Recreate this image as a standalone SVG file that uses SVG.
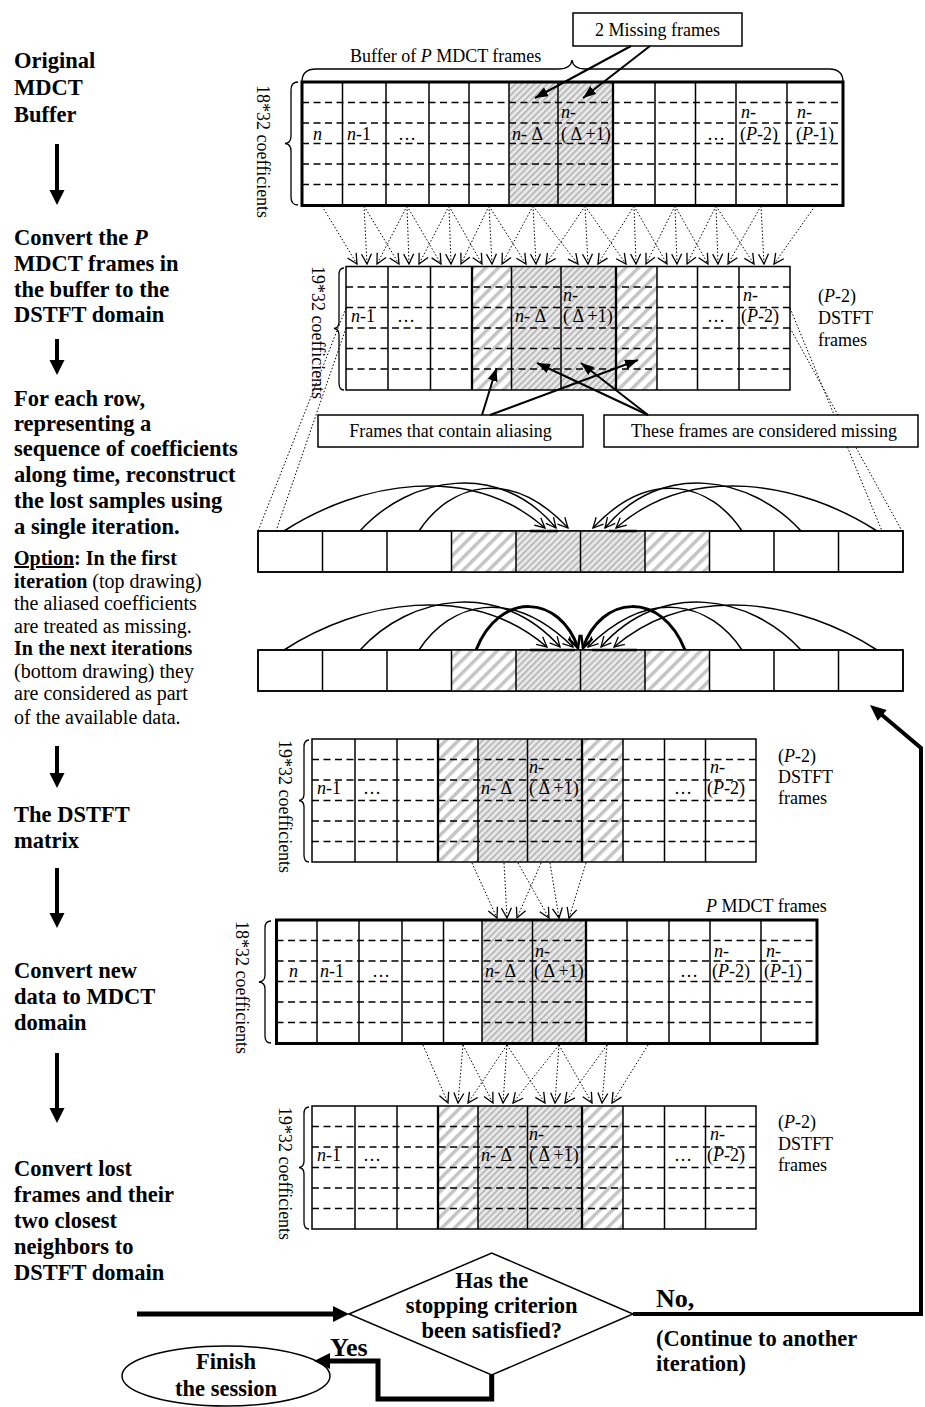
<svg xmlns="http://www.w3.org/2000/svg" width="925" height="1407" viewBox="0 0 925 1407">
<defs>
<style>
.cell{fill:#fff;stroke:#000;stroke-width:1.5}
.bd{fill:none;stroke:#000;stroke-width:1.5}
.bd3{fill:none;stroke:#000;stroke-width:3}
.vl{stroke:#000;stroke-width:1.5}
.vl2{stroke:#000;stroke-width:2.3}
.dash{stroke:#000;stroke-width:1.5;stroke-dasharray:7 4.5}
.dot{stroke:#000;stroke-width:1;stroke-dasharray:1.5 2;fill:none}
.brace{fill:none;stroke:#000;stroke-width:1.3}
.arc{fill:none;stroke:#000;stroke-width:1.5}
.arcb{fill:none;stroke:#000;stroke-width:3}
.thk{fill:none;stroke:#000}
.lbl{font-family:"Liberation Serif","Times New Roman",serif;font-size:18px}
.sm{font-family:"Liberation Serif","Times New Roman",serif;font-size:20px}
.bold{font-family:"Liberation Serif","Times New Roman",serif;font-weight:bold;font-size:22.5px}
.big{font-family:"Liberation Serif","Times New Roman",serif;font-weight:bold;font-size:26px}
.it{font-style:italic}
.b{font-weight:bold}
.miss{fill:url(#pm)}
.alias{fill:url(#pa)}
</style>
<pattern id="pm" width="4.5" height="4.5" patternUnits="userSpaceOnUse" patternTransform="rotate(45)"><rect width="4.5" height="4.5" fill="#e8e8e8"/><rect width="1.6" height="4.5" fill="#b4b4b4"/></pattern>
<pattern id="pa" width="9" height="9" patternUnits="userSpaceOnUse" patternTransform="rotate(45)"><rect width="9" height="9" fill="#fff"/><rect width="3.5" height="9" fill="#c4c4c4"/></pattern>
<marker id="av" markerWidth="12" markerHeight="12" refX="11" refY="6" orient="auto" markerUnits="userSpaceOnUse"><path d="M1,1 L11,6 L1,11" fill="none" stroke="#000" stroke-width="1.3" stroke-dasharray="none"/></marker>
<marker id="avb" markerWidth="14" markerHeight="14" refX="13" refY="7" orient="auto" markerUnits="userSpaceOnUse"><path d="M1,1 L13,7 L1,13" fill="none" stroke="#000" stroke-width="2.5"/></marker>
<marker id="af" markerWidth="14" markerHeight="10" refX="13" refY="5" orient="auto" markerUnits="userSpaceOnUse"><path d="M0,0 L13,5 L0,10 z" fill="#000"/></marker>
</defs>
<rect width="925" height="1407" fill="#fff"/>

<!-- Left column of steps -->
<g id="step-original">
<text class="bold" x="14" y="68">Original</text>
<text class="bold" x="14" y="95">MDCT</text>
<text class="bold" x="14" y="122">Buffer</text>
</g>
<g id="step-convert-dstft">
<text class="bold" x="14" y="245">Convert the <tspan class="it">P</tspan></text>
<text class="bold" x="14" y="271">MDCT frames in</text>
<text class="bold" x="14" y="297">the buffer to the</text>
<text class="bold" x="14" y="322">DSTFT domain</text>
</g>
<g id="step-reconstruct">
<text class="bold" x="14" y="406">For each row,</text>
<text class="bold" x="14" y="431">representing a</text>
<text class="bold" x="14" y="456">sequence of coefficients</text>
<text class="bold" x="14" y="482">along time, reconstruct</text>
<text class="bold" x="14" y="508">the lost samples using</text>
<text class="bold" x="14" y="534">a single iteration.</text>
<text class="sm" x="14" y="565"><tspan class="b" text-decoration="underline">Option</tspan><tspan class="b">: In the first</tspan></text>
<text class="sm" x="14" y="588"><tspan class="b">iteration</tspan> (top drawing)</text>
<text class="sm" x="14" y="610">the aliased coefficients</text>
<text class="sm" x="14" y="633">are treated as missing.</text>
<text class="sm b" x="14" y="655">In the next iterations</text>
<text class="sm" x="14" y="678">(bottom drawing) they</text>
<text class="sm" x="14" y="700">are considered as part</text>
<text class="sm" x="14" y="724">of the available data.</text>
</g>
<g id="step-dstft-matrix">
<text class="bold" x="14" y="822">The DSTFT</text>
<text class="bold" x="14" y="848">matrix</text>
</g>
<g id="step-convert-mdct">
<text class="bold" x="14" y="978">Convert new</text>
<text class="bold" x="14" y="1004">data to MDCT</text>
<text class="bold" x="14" y="1030">domain</text>
</g>
<g id="step-convert-lost">
<text class="bold" x="14" y="1176">Convert lost</text>
<text class="bold" x="14" y="1202">frames and their</text>
<text class="bold" x="14" y="1228">two closest</text>
<text class="bold" x="14" y="1254">neighbors to</text>
<text class="bold" x="14" y="1280">DSTFT domain</text>
</g>

<!-- Matrix 1: original MDCT buffer -->
<g id="mdct-buffer">
<rect x="302" y="82" width="541" height="123.5" fill="#fff"/>
<rect class="miss" x="509" y="82" width="104" height="123.5"/>
<g class="vl">
<line x1="342.5" y1="82" x2="342.5" y2="205.5"/><line x1="386" y1="82" x2="386" y2="205.5"/><line x1="429" y1="82" x2="429" y2="205.5"/><line x1="469" y1="82" x2="469" y2="205.5"/><line x1="509" y1="82" x2="509" y2="205.5"/><line x1="558" y1="82" x2="558" y2="205.5"/><line x1="655" y1="82" x2="655" y2="205.5"/><line x1="695.5" y1="82" x2="695.5" y2="205.5"/><line x1="736" y1="82" x2="736" y2="205.5"/><line x1="787" y1="82" x2="787" y2="205.5"/>
</g>
<line class="vl2" x1="613" y1="82" x2="613" y2="205.5"/>
<g class="dash">
<line x1="302" y1="102.5" x2="843" y2="102.5"/><line x1="302" y1="123" x2="843" y2="123"/><line x1="302" y1="143.5" x2="843" y2="143.5"/><line x1="302" y1="164" x2="843" y2="164"/><line x1="302" y1="184.5" x2="843" y2="184.5"/>
</g>
<rect class="bd3" x="302" y="82" width="541" height="123.5"/>
<text class="lbl" x="313" y="140"><tspan class="it">n</tspan></text>
<text class="lbl" x="347" y="140"><tspan class="it">n</tspan>-1</text>
<text class="lbl" x="398" y="140">…</text>
<text class="lbl" x="512" y="140"><tspan class="it">n</tspan>- Δ</text>
<text class="lbl" x="561" y="118"><tspan class="it">n</tspan>-</text>
<text class="lbl" x="561" y="140">( Δ +1)</text>
<text class="lbl" x="707" y="140">…</text>
<text class="lbl" x="741" y="118"><tspan class="it">n</tspan>-</text>
<text class="lbl" x="740" y="140">(<tspan class="it">P</tspan>-2)</text>
<text class="lbl" x="797" y="118"><tspan class="it">n</tspan>-</text>
<text class="lbl" x="796" y="140">(<tspan class="it">P</tspan>-1)</text>
<path class="brace" d="M298,82 Q291,82 291,90 L291,136 Q291,143 285,143.5 Q291,144 291,151 L291,197 Q291,205 298,205"/>
<text class="lbl" transform="translate(257,85) rotate(90)">18*32 coefficients</text>
<path class="brace" d="M302,82 Q302,69 316,69 L558,69 Q571,69 572,60 Q573,69 586,69 L829,69 Q843,69 843,82"/>
<text class="lbl" x="350" y="62">Buffer of <tspan class="it">P</tspan> MDCT frames</text>
</g>

<g id="missing-frames-label">
<rect class="cell" x="573" y="13" width="169" height="33"/>
<text class="lbl" x="657.5" y="36" text-anchor="middle">2 Missing frames</text>
</g>

<!-- Matrix 2: DSTFT frames -->
<g id="dstft-1">
<rect x="346" y="266.5" width="444" height="123.5" fill="#fff"/>
<rect class="alias" x="472" y="266.5" width="39.5" height="123.5"/>
<rect class="miss" x="511.5" y="266.5" width="104.5" height="123.5"/>
<rect class="alias" x="616" y="266.5" width="41" height="123.5"/>
<g class="vl">
<line x1="388" y1="266.5" x2="388" y2="390"/><line x1="430.5" y1="266.5" x2="430.5" y2="390"/><line x1="511.5" y1="266.5" x2="511.5" y2="390"/><line x1="561" y1="266.5" x2="561" y2="390"/><line x1="697.5" y1="266.5" x2="697.5" y2="390"/><line x1="739" y1="266.5" x2="739" y2="390"/>
</g>
<line class="vl2" x1="472" y1="266.5" x2="472" y2="390"/><line class="vl2" x1="616" y1="266.5" x2="616" y2="390"/><line class="vl" x1="657" y1="266.5" x2="657" y2="390"/>
<g class="dash">
<line x1="346" y1="287" x2="790" y2="287"/><line x1="346" y1="307.5" x2="790" y2="307.5"/><line x1="346" y1="328" x2="790" y2="328"/><line x1="346" y1="348.5" x2="790" y2="348.5"/><line x1="346" y1="369" x2="790" y2="369"/>
</g>
<rect class="bd" x="346" y="266.5" width="444" height="123.5"/>
<text class="lbl" x="351" y="322"><tspan class="it">n</tspan>-1</text>
<text class="lbl" x="397" y="322">…</text>
<text class="lbl" x="515" y="322"><tspan class="it">n</tspan>- Δ</text>
<text class="lbl" x="563" y="301"><tspan class="it">n</tspan>-</text>
<text class="lbl" x="563" y="322">( Δ +1)</text>
<text class="lbl" x="707" y="322">…</text>
<text class="lbl" x="743" y="301"><tspan class="it">n</tspan>-</text>
<text class="lbl" x="741" y="322">(<tspan class="it">P</tspan>-2)</text>
<text class="lbl" x="818" y="302">(<tspan class="it">P</tspan>-2)</text>
<text class="lbl" x="818" y="324">DSTFT</text>
<text class="lbl" x="818" y="346">frames</text>
<path class="brace" d="M344,268 Q339,268 339,275 L339,322 Q339,328 334,328.5 Q339,329 339,335 L339,383 Q339,390 344,390"/>
<text class="lbl" transform="translate(312,266) rotate(90)">19*32 coefficients</text>
</g>

<!-- Projection lines (behind boxes) -->
<g id="projection-lines" class="dot">
<line x1="346" y1="308" x2="258" y2="531"/>
<line x1="346" y1="328" x2="276" y2="531"/>
<line x1="790" y1="308" x2="882" y2="531"/>
<line x1="790" y1="328" x2="902" y2="531"/>
</g>

<g id="aliasing-label">
<rect class="cell" x="318" y="415" width="265" height="32"/>
<text class="lbl" x="450.5" y="437" text-anchor="middle">Frames that contain aliasing</text>
</g>
<g id="considered-missing-label">
<rect class="cell" x="604" y="415" width="314" height="32"/>
<text class="lbl" x="764" y="437" text-anchor="middle">These frames are considered missing</text>
</g>

<!-- Row A: first iteration -->
<g id="row-first-iteration">
<rect class="cell" x="258" y="531" width="645" height="41"/>
<rect class="alias" x="451.5" y="531" width="64.5" height="41"/>
<rect class="miss" x="516" y="531" width="129" height="41"/>
<rect class="alias" x="645" y="531" width="64.5" height="41"/>
<g class="vl">
<line x1="322.5" y1="531" x2="322.5" y2="572"/><line x1="387" y1="531" x2="387" y2="572"/><line x1="451.5" y1="531" x2="451.5" y2="572"/><line x1="516" y1="531" x2="516" y2="572"/><line x1="580.5" y1="531" x2="580.5" y2="572"/><line x1="645" y1="531" x2="645" y2="572"/><line x1="709.5" y1="531" x2="709.5" y2="572"/><line x1="774" y1="531" x2="774" y2="572"/><line x1="838.5" y1="531" x2="838.5" y2="572"/>
</g>
<rect class="bd" x="258" y="531" width="645" height="41"/>
</g>

<!-- Row B: next iterations -->
<g id="row-next-iterations">
<rect class="cell" x="258" y="650" width="645" height="41"/>
<rect class="alias" x="451.5" y="650" width="64.5" height="41"/>
<rect class="miss" x="516" y="650" width="129" height="41"/>
<rect class="alias" x="645" y="650" width="64.5" height="41"/>
<g class="vl">
<line x1="322.5" y1="650" x2="322.5" y2="691"/><line x1="387" y1="650" x2="387" y2="691"/><line x1="451.5" y1="650" x2="451.5" y2="691"/><line x1="516" y1="650" x2="516" y2="691"/><line x1="580.5" y1="650" x2="580.5" y2="691"/><line x1="645" y1="650" x2="645" y2="691"/><line x1="709.5" y1="650" x2="709.5" y2="691"/><line x1="774" y1="650" x2="774" y2="691"/><line x1="838.5" y1="650" x2="838.5" y2="691"/>
</g>
<rect class="bd" x="258" y="650" width="645" height="41"/>
</g>

<!-- Matrix 3: DSTFT matrix -->
<g id="dstft-2">
<rect x="312" y="739" width="444" height="123" fill="#fff"/>
<rect class="alias" x="438" y="739" width="40" height="123"/>
<rect class="miss" x="478" y="739" width="104" height="123"/>
<rect class="alias" x="582" y="739" width="41" height="123"/>
<g class="vl">
<line x1="355" y1="739" x2="355" y2="862"/><line x1="397" y1="739" x2="397" y2="862"/><line x1="478" y1="739" x2="478" y2="862"/><line x1="527.5" y1="739" x2="527.5" y2="862"/><line x1="623" y1="739" x2="623" y2="862"/><line x1="664.5" y1="739" x2="664.5" y2="862"/><line x1="705.5" y1="739" x2="705.5" y2="862"/>
</g>
<line class="vl2" x1="438" y1="739" x2="438" y2="862"/><line class="vl2" x1="582" y1="739" x2="582" y2="862"/>
<g class="dash">
<line x1="312" y1="759.5" x2="756" y2="759.5"/><line x1="312" y1="780" x2="756" y2="780"/><line x1="312" y1="800.5" x2="756" y2="800.5"/><line x1="312" y1="821" x2="756" y2="821"/><line x1="312" y1="841.5" x2="756" y2="841.5"/>
</g>
<rect class="bd" x="312" y="739" width="444" height="123"/>
<text class="lbl" x="317" y="794"><tspan class="it">n</tspan>-1</text>
<text class="lbl" x="363" y="794">…</text>
<text class="lbl" x="481" y="794"><tspan class="it">n</tspan>- Δ</text>
<text class="lbl" x="529" y="773"><tspan class="it">n</tspan>-</text>
<text class="lbl" x="529" y="794">( Δ +1)</text>
<text class="lbl" x="674" y="794">…</text>
<text class="lbl" x="710" y="773"><tspan class="it">n</tspan>-</text>
<text class="lbl" x="707" y="794">(<tspan class="it">P</tspan>-2)</text>
<text class="lbl" x="778" y="762">(<tspan class="it">P</tspan>-2)</text>
<text class="lbl" x="778" y="783">DSTFT</text>
<text class="lbl" x="778" y="804">frames</text>
<path class="brace" d="M309,740 Q304,740 304,747 L304,794 Q304,800 299,800.5 Q304,801 304,807 L304,855 Q304,862 309,862"/>
<text class="lbl" transform="translate(279,740) rotate(90)">19*32 coefficients</text>
</g>

<!-- Matrix 4: new MDCT frames -->
<g id="mdct-new">
<rect x="276.5" y="920" width="540.5" height="123.5" fill="#fff"/>
<rect class="miss" x="482" y="920" width="104" height="123.5"/>
<g class="vl">
<line x1="317" y1="920" x2="317" y2="1043.5"/><line x1="359" y1="920" x2="359" y2="1043.5"/><line x1="402" y1="920" x2="402" y2="1043.5"/><line x1="443.5" y1="920" x2="443.5" y2="1043.5"/><line x1="482" y1="920" x2="482" y2="1043.5"/><line x1="532.5" y1="920" x2="532.5" y2="1043.5"/><line x1="627" y1="920" x2="627" y2="1043.5"/><line x1="669" y1="920" x2="669" y2="1043.5"/><line x1="710" y1="920" x2="710" y2="1043.5"/><line x1="761" y1="920" x2="761" y2="1043.5"/>
</g>
<line class="vl2" x1="586" y1="920" x2="586" y2="1043.5"/>
<g class="dash">
<line x1="276.5" y1="940.5" x2="817" y2="940.5"/><line x1="276.5" y1="961" x2="817" y2="961"/><line x1="276.5" y1="981.5" x2="817" y2="981.5"/><line x1="276.5" y1="1002" x2="817" y2="1002"/><line x1="276.5" y1="1022.5" x2="817" y2="1022.5"/>
</g>
<rect class="bd3" x="276.5" y="920" width="540.5" height="123.5"/>
<text class="lbl" x="289" y="977"><tspan class="it">n</tspan></text>
<text class="lbl" x="320" y="977"><tspan class="it">n</tspan>-1</text>
<text class="lbl" x="372" y="977">…</text>
<text class="lbl" x="485" y="977"><tspan class="it">n</tspan>- Δ</text>
<text class="lbl" x="535" y="957"><tspan class="it">n</tspan>-</text>
<text class="lbl" x="534" y="977">( Δ +1)</text>
<text class="lbl" x="680" y="977">…</text>
<text class="lbl" x="714" y="957"><tspan class="it">n</tspan>-</text>
<text class="lbl" x="712" y="977">(<tspan class="it">P</tspan>-2)</text>
<text class="lbl" x="766" y="957"><tspan class="it">n</tspan>-</text>
<text class="lbl" x="764" y="977">(<tspan class="it">P</tspan>-1)</text>
<text class="lbl" x="706" y="912"><tspan class="it">P</tspan> MDCT frames</text>
<path class="brace" d="M271,921 Q265,921 265,928 L265,975 Q265,981.5 259,982 Q265,982.5 265,989 L265,1036 Q265,1043 271,1043"/>
<text class="lbl" transform="translate(236,921) rotate(90)">18*32 coefficients</text>
</g>

<!-- Matrix 5: DSTFT of lost frames and neighbours -->
<g id="dstft-3">
<rect x="312" y="1106" width="444" height="123" fill="#fff"/>
<rect class="alias" x="438" y="1106" width="40" height="123"/>
<rect class="miss" x="478" y="1106" width="104" height="123"/>
<rect class="alias" x="582" y="1106" width="41" height="123"/>
<g class="vl">
<line x1="355" y1="1106" x2="355" y2="1229"/><line x1="397" y1="1106" x2="397" y2="1229"/><line x1="478" y1="1106" x2="478" y2="1229"/><line x1="527.5" y1="1106" x2="527.5" y2="1229"/><line x1="623" y1="1106" x2="623" y2="1229"/><line x1="664.5" y1="1106" x2="664.5" y2="1229"/><line x1="705.5" y1="1106" x2="705.5" y2="1229"/>
</g>
<line class="vl2" x1="438" y1="1106" x2="438" y2="1229"/><line class="vl2" x1="582" y1="1106" x2="582" y2="1229"/>
<g class="dash">
<line x1="312" y1="1126.5" x2="756" y2="1126.5"/><line x1="312" y1="1147" x2="756" y2="1147"/><line x1="312" y1="1167.5" x2="756" y2="1167.5"/><line x1="312" y1="1188" x2="756" y2="1188"/><line x1="312" y1="1208.5" x2="756" y2="1208.5"/>
</g>
<rect class="bd" x="312" y="1106" width="444" height="123"/>
<text class="lbl" x="317" y="1161"><tspan class="it">n</tspan>-1</text>
<text class="lbl" x="363" y="1161">…</text>
<text class="lbl" x="481" y="1161"><tspan class="it">n</tspan>- Δ</text>
<text class="lbl" x="529" y="1140"><tspan class="it">n</tspan>-</text>
<text class="lbl" x="529" y="1161">( Δ +1)</text>
<text class="lbl" x="674" y="1161">…</text>
<text class="lbl" x="710" y="1140"><tspan class="it">n</tspan>-</text>
<text class="lbl" x="707" y="1161">(<tspan class="it">P</tspan>-2)</text>
<text class="lbl" x="778" y="1128">(<tspan class="it">P</tspan>-2)</text>
<text class="lbl" x="778" y="1150">DSTFT</text>
<text class="lbl" x="778" y="1171">frames</text>
<path class="brace" d="M309,1107 Q304,1107 304,1114 L304,1161 Q304,1167 299,1167.5 Q304,1168 304,1174 L304,1222 Q304,1229 309,1229"/>
<text class="lbl" transform="translate(279,1107) rotate(90)">19*32 coefficients</text>
</g>

<!-- Decision and terminal -->
<g id="decision">
<polygon points="349,1314 491.7,1253 633,1314 491.7,1375" fill="#fff" stroke="#000" stroke-width="1.5"/>
<text class="bold" x="491.7" y="1288" text-anchor="middle">Has the</text>
<text class="bold" x="491.7" y="1313" text-anchor="middle">stopping criterion</text>
<text class="bold" x="491.7" y="1338" text-anchor="middle">been satisfied?</text>
</g>
<g id="finish">
<ellipse cx="226" cy="1376" rx="104" ry="30" fill="#fff" stroke="#000" stroke-width="1.5"/>
<text class="bold" x="226" y="1369" text-anchor="middle">Finish</text>
<text class="bold" x="226" y="1396" text-anchor="middle">the session</text>
</g>

<!-- Connectors -->
<g id="connectors">
<g stroke="#000" stroke-width="4">
<line x1="57" y1="144" x2="57" y2="192"/><line x1="57" y1="339" x2="57" y2="362"/><line x1="57" y1="746" x2="57" y2="775"/><line x1="57" y1="868" x2="57" y2="915"/><line x1="57" y1="1053" x2="57" y2="1110"/>
</g>
<polygon points="49.5,190 64.5,190 57,205"/><polygon points="49.5,360 64.5,360 57,375"/><polygon points="49.5,773 64.5,773 57,788"/><polygon points="49.5,913 64.5,913 57,928"/><polygon points="49.5,1108 64.5,1108 57,1123"/>

<g stroke="#000" stroke-width="2" marker-end="url(#af)">
<line x1="631" y1="46" x2="535" y2="98"/>
<line x1="650" y1="46" x2="583" y2="98"/>
<line x1="482" y1="415" x2="496.5" y2="368"/>
<line x1="490" y1="415" x2="638" y2="360"/>
<line x1="648" y1="415" x2="537" y2="363"/>
<line x1="648" y1="415" x2="581" y2="363"/>
</g>

<g class="dot" marker-end="url(#av)">
<line x1="322" y1="206" x2="357" y2="264"/><line x1="364" y1="206" x2="367" y2="264"/><line x1="407" y1="206" x2="377" y2="264"/>
<line x1="364" y1="206" x2="399" y2="264"/><line x1="407" y1="206" x2="409" y2="264"/><line x1="449" y1="206" x2="419" y2="264"/>
<line x1="407" y1="206" x2="441" y2="264"/><line x1="449" y1="206" x2="451" y2="264"/><line x1="489" y1="206" x2="461" y2="264"/>
<line x1="449" y1="206" x2="482" y2="264"/><line x1="489" y1="206" x2="492" y2="264"/><line x1="533" y1="206" x2="502" y2="264"/>
<line x1="489" y1="206" x2="526" y2="264"/><line x1="533" y1="206" x2="536" y2="264"/><line x1="585" y1="206" x2="546" y2="264"/>
<line x1="533" y1="206" x2="578" y2="264"/><line x1="585" y1="206" x2="588" y2="264"/><line x1="634" y1="206" x2="598" y2="264"/>
<line x1="585" y1="206" x2="626" y2="264"/><line x1="634" y1="206" x2="636" y2="264"/><line x1="675" y1="206" x2="646" y2="264"/>
<line x1="634" y1="206" x2="667" y2="264"/><line x1="675" y1="206" x2="677" y2="264"/><line x1="716" y1="206" x2="687" y2="264"/>
<line x1="675" y1="206" x2="708" y2="264"/><line x1="716" y1="206" x2="718" y2="264"/><line x1="761" y1="206" x2="728" y2="264"/>
<line x1="716" y1="206" x2="754" y2="264"/><line x1="761" y1="206" x2="764" y2="264"/><line x1="815" y1="206" x2="774" y2="264"/>
</g>

<g class="arc" marker-end="url(#av)">
<path d="M284,531 C360,482 470,462 545,528"/>
<path d="M360,531 C410,476 500,460 556,528"/>
<path d="M419,531 C450,484 510,466 568,528"/>
<path d="M877,531 C801,482 691,462 616,528"/>
<path d="M801,531 C751,476 661,460 605,528"/>
<path d="M742,531 C711,484 651,466 593,528"/>
</g>
<g stroke="#000" stroke-width="2.5">
<line x1="530" y1="531" x2="558" y2="531"/><line x1="609" y1="531" x2="637" y2="531"/>
</g>

<g class="arc" marker-end="url(#av)">
<path d="M284,650 C360,601 470,581 547,647"/>
<path d="M360,650 C410,595 500,579 560,647"/>
<path d="M419,650 C450,603 510,585 573,647"/>
<path d="M877,650 C801,601 691,581 614,647"/>
<path d="M801,650 C751,595 661,579 601,647"/>
<path d="M742,650 C711,603 651,585 588,647"/>
</g>
<g class="arcb" marker-end="url(#avb)">
<path d="M476,650 C500,590 560,595 578,648"/>
<path d="M685,650 C661,590 601,595 583,648"/>
</g>
<g stroke="#000" stroke-width="2.5">
<line x1="530" y1="650" x2="575" y2="650"/><line x1="592" y1="650" x2="637" y2="650"/>
</g>

<g class="dot" marker-end="url(#av)">
<line x1="472" y1="863" x2="497" y2="918"/><line x1="504" y1="863" x2="507" y2="918"/><line x1="541" y1="863" x2="517" y2="918"/>
<line x1="518" y1="863" x2="549" y2="918"/><line x1="550" y1="863" x2="559" y2="918"/><line x1="586" y1="863" x2="569" y2="918"/>
</g>

<g class="dot" marker-end="url(#av)">
<line x1="423" y1="1045" x2="448" y2="1103"/><line x1="463" y1="1045" x2="458" y2="1103"/><line x1="507" y1="1045" x2="468" y2="1103"/>
<line x1="463" y1="1045" x2="493" y2="1103"/><line x1="507" y1="1045" x2="503" y2="1103"/><line x1="559" y1="1045" x2="513" y2="1103"/>
<line x1="507" y1="1045" x2="545" y2="1103"/><line x1="559" y1="1045" x2="555" y2="1103"/><line x1="607" y1="1045" x2="565" y2="1103"/>
<line x1="559" y1="1045" x2="592" y2="1103"/><line x1="607" y1="1045" x2="602" y2="1103"/><line x1="648" y1="1045" x2="612" y2="1103"/>
</g>

<line x1="137" y1="1314" x2="335" y2="1314" stroke="#000" stroke-width="5"/>
<polygon points="333,1306 333,1322 349,1314"/>
<polyline class="thk" stroke-width="4" points="633,1314 921,1314 921,748 882,715"/>
<polygon points="870,705 886.7,709.9 877.7,720.7"/>
<polyline class="thk" stroke-width="5" points="491.7,1375 491.7,1399 378,1399 378,1361 328,1361"/>
<polygon points="330,1353 330,1369 314,1361"/>
</g>

<g id="flow-labels">
<text class="big" x="656" y="1307">No,</text>
<text class="bold" x="656" y="1346">(Continue to another</text>
<text class="bold" x="656" y="1371">iteration)</text>
<text class="big" x="330" y="1356">Yes</text>
</g>
</svg>
